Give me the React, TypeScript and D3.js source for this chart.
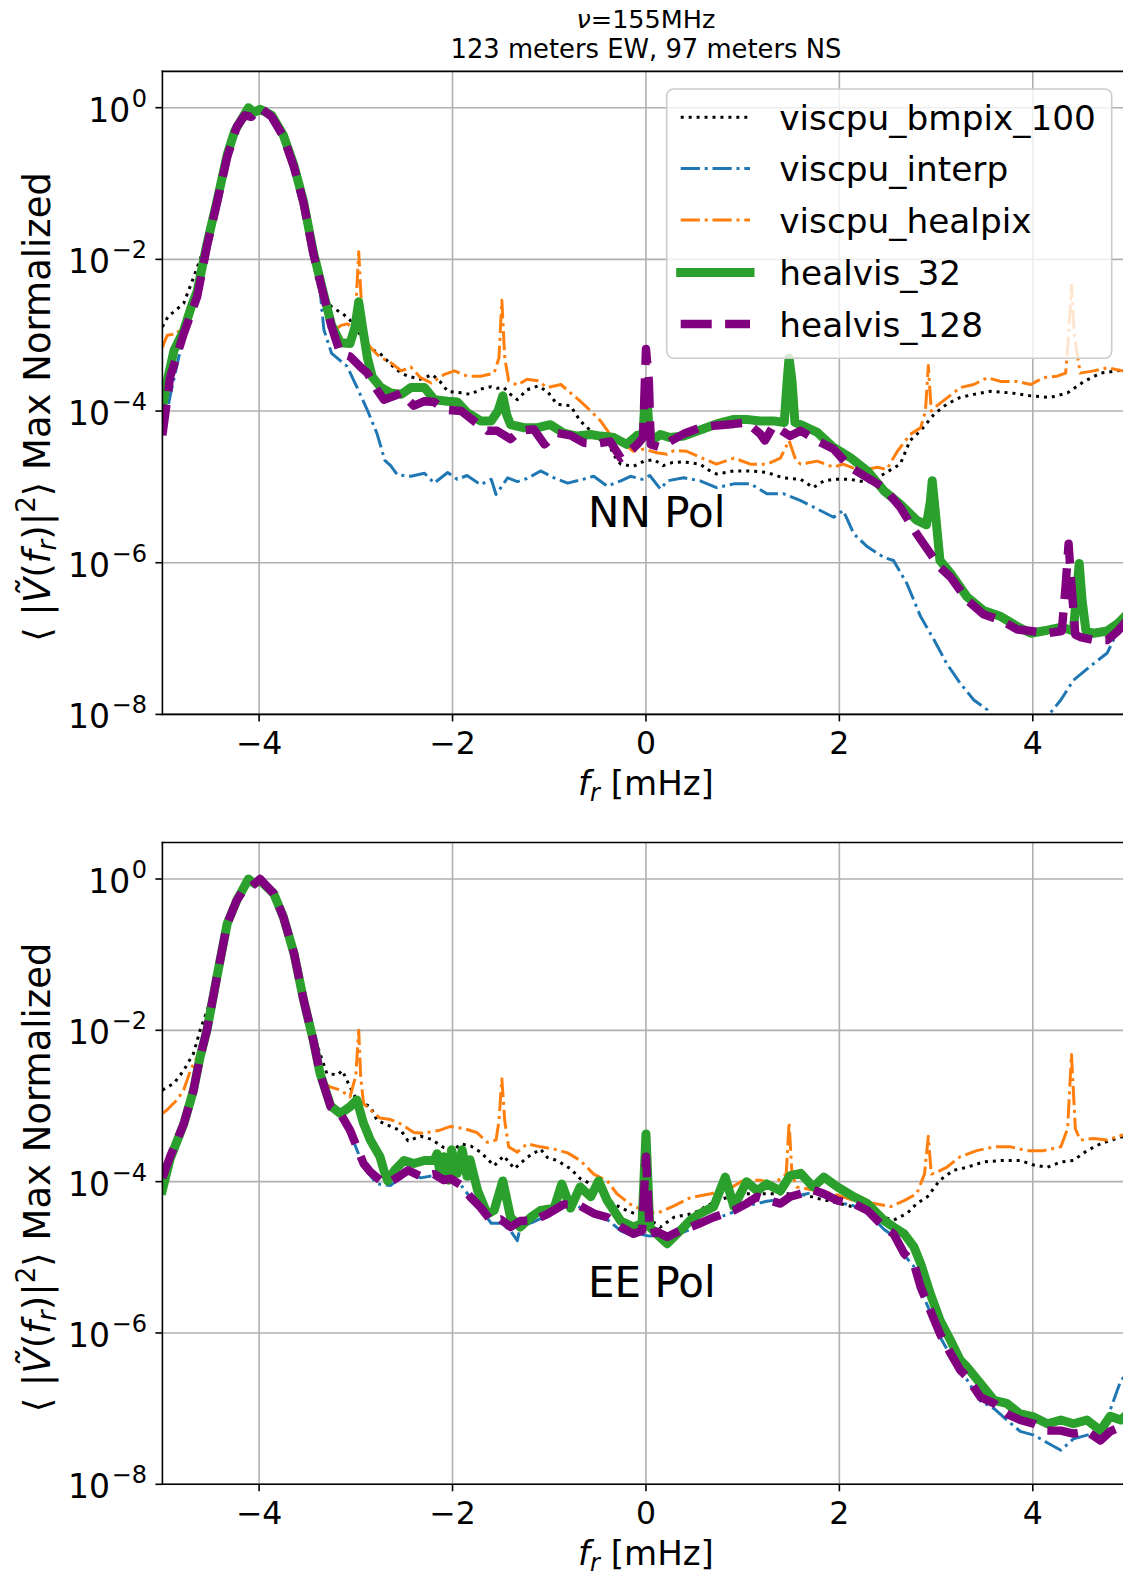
import React from 'react';
import * as d3 from 'd3';

// Each series: [f_r in mHz, log10 of max-normalized power]
type Pt = [number, number];

const SERIES_NAMES = ['viscpu_bmpix_100', 'viscpu_interp', 'viscpu_healpix', 'healvis_32', 'healvis_128'];
const FREQ_TICKS = [-4, -2, 0, 2, 4];
const DECADE_TICKS = [0, -2, -4, -6, -8];
const TITLE_LINE1 = '=155MHz';
const TITLE_LINE2 = '123 meters EW, 97 meters NS';
const PANEL_LABELS = ['NN Pol', 'EE Pol'];

// ---------------- NN Pol ----------------
const nnBmpix: Pt[] = [[-5,-2.89],[-4.94,-2.75],[-4.88,-2.69],[-4.78,-2.58],[-4.69,-2.28],[-4.61,-2.0],[-4.54,-1.75],[-4.43,-1.2],[-4.33,-0.65],[-4.23,-0.27],[-4.11,-0.05],[-3.99,-0.02],[-3.87,-0.12],[-3.75,-0.38],[-3.64,-0.78],[-3.54,-1.26],[-3.47,-1.7],[-3.4,-2.32],[-3.25,-2.63],[-3.13,-2.72],[-3.06,-2.8],[-2.95,-3.0],[-2.88,-3.16],[-2.75,-3.24],[-2.61,-3.42],[-2.53,-3.5],[-2.46,-3.54],[-2.33,-3.58],[-2.21,-3.52],[-2.13,-3.61],[-2.05,-3.74],[-1.91,-3.76],[-1.81,-3.78],[-1.71,-3.71],[-1.6,-3.68],[-1.54,-3.7],[-1.47,-3.69],[-1.4,-3.78],[-1.33,-3.85],[-1.23,-3.72],[-1.12,-3.67],[-1.02,-3.74],[-0.92,-3.91],[-0.78,-3.93],[-0.68,-4.13],[-0.57,-4.26],[-0.47,-4.38],[-0.37,-4.48],[-0.3,-4.65],[-0.26,-4.7],[-0.13,-4.73],[-0.02,-4.66],[0.08,-4.64],[0.18,-4.72],[0.27,-4.68],[0.39,-4.67],[0.56,-4.7],[0.65,-4.78],[0.73,-4.83],[0.91,-4.79],[1.08,-4.79],[1.25,-4.81],[1.42,-4.88],[1.6,-4.9],[1.73,-5.01],[1.84,-4.92],[1.94,-4.9],[2.11,-4.9],[2.29,-4.94],[2.46,-4.83],[2.63,-4.7],[2.73,-4.39],[2.84,-4.26],[2.98,-4.04],[3.11,-3.91],[3.25,-3.82],[3.39,-3.78],[3.56,-3.74],[3.77,-3.76],[3.98,-3.8],[4.18,-3.82],[4.36,-3.76],[4.53,-3.61],[4.7,-3.5],[4.87,-3.47],[5,-3.44]];

const nnInterp: Pt[] = [[-5,-4.32],[-4.92,-3.8],[-4.78,-3.0],[-4.64,-2.45],[-4.54,-1.8],[-4.43,-1.2],[-4.33,-0.63],[-4.23,-0.25],[-4.11,-0.03],[-3.99,0],[-3.87,-0.12],[-3.75,-0.38],[-3.64,-0.78],[-3.54,-1.26],[-3.44,-1.92],[-3.37,-2.4],[-3.33,-2.93],[-3.25,-3.24],[-3.09,-3.41],[-2.99,-3.68],[-2.88,-3.99],[-2.78,-4.3],[-2.7,-4.65],[-2.64,-4.72],[-2.57,-4.84],[-2.43,-4.86],[-2.29,-4.82],[-2.19,-4.95],[-2.05,-4.81],[-1.95,-4.9],[-1.85,-4.85],[-1.71,-4.97],[-1.6,-4.9],[-1.55,-5.1],[-1.43,-4.88],[-1.33,-4.93],[-1.23,-4.89],[-1.09,-4.79],[-0.95,-4.88],[-0.81,-4.95],[-0.68,-4.91],[-0.54,-4.86],[-0.4,-4.99],[-0.26,-4.92],[-0.16,-4.86],[-0.04,-4.9],[0.04,-4.85],[0.15,-5.03],[0.22,-4.92],[0.39,-4.88],[0.56,-4.92],[0.73,-5.01],[0.91,-4.96],[1.08,-4.96],[1.25,-5.09],[1.42,-5.09],[1.6,-5.18],[1.77,-5.29],[1.94,-5.4],[2.04,-5.31],[2.15,-5.62],[2.29,-5.79],[2.46,-5.93],[2.56,-5.97],[2.7,-6.28],[2.84,-6.71],[2.98,-7.02],[3.11,-7.33],[3.25,-7.59],[3.39,-7.81],[3.53,-7.94],[3.6,-8.07],[3.75,-8.3],[4.0,-8.35],[4.15,-8.03],[4.29,-7.81],[4.42,-7.55],[4.59,-7.37],[4.77,-7.19],[4.86,-6.95],[4.95,-6.8],[5,-6.75]];

const nnHealpix: Pt[] = [[-5,-3.16],[-4.95,-3.0],[-4.85,-2.98],[-4.8,-2.89],[-4.74,-2.76],[-4.68,-2.5],[-4.6,-2.2],[-4.54,-1.82],[-4.43,-1.2],[-4.33,-0.64],[-4.23,-0.25],[-4.11,-0.03],[-3.99,-0.01],[-3.87,-0.12],[-3.75,-0.38],[-3.64,-0.78],[-3.54,-1.26],[-3.44,-1.92],[-3.33,-2.49],[-3.23,-2.94],[-3.15,-2.87],[-3.09,-2.85],[-3.02,-2.9],[-2.99,-2.4],[-2.97,-1.9],[-2.95,-2.4],[-2.92,-3.02],[-2.85,-3.16],[-2.75,-3.29],[-2.64,-3.36],[-2.53,-3.47],[-2.43,-3.42],[-2.33,-3.56],[-2.22,-3.63],[-2.09,-3.52],[-1.98,-3.47],[-1.85,-3.54],[-1.71,-3.54],[-1.57,-3.5],[-1.52,-3.3],[-1.49,-2.54],[-1.46,-3.3],[-1.42,-3.6],[-1.33,-3.66],[-1.23,-3.58],[-1.12,-3.6],[-1.02,-3.69],[-0.88,-3.65],[-0.78,-3.76],[-0.68,-3.87],[-0.57,-4.0],[-0.47,-4.13],[-0.37,-4.31],[-0.26,-4.4],[-0.13,-4.53],[-0.02,-4.5],[0.11,-4.55],[0.22,-4.57],[0.29,-4.52],[0.42,-4.53],[0.56,-4.61],[0.73,-4.7],[0.91,-4.62],[1.08,-4.7],[1.25,-4.7],[1.39,-4.62],[1.48,-4.39],[1.55,-4.65],[1.6,-4.7],[1.77,-4.66],[1.94,-4.74],[2.04,-4.7],[2.22,-4.79],[2.39,-4.74],[2.49,-4.77],[2.6,-4.53],[2.73,-4.31],[2.84,-4.22],[2.89,-4.0],[2.92,-3.4],[2.95,-4.0],[2.98,-3.96],[3.11,-3.83],[3.25,-3.69],[3.39,-3.65],[3.53,-3.56],[3.67,-3.61],[3.84,-3.61],[3.98,-3.65],[4.11,-3.56],[4.25,-3.54],[4.34,-3.5],[4.37,-3.0],[4.4,-2.34],[4.43,-3.0],[4.49,-3.5],[4.63,-3.47],[4.77,-3.43],[4.93,-3.47],[5,-3.42]];

const nnHealvis32: Pt[] = [[-5,-3.95],[-4.95,-3.6],[-4.88,-3.2],[-4.78,-2.94],[-4.7,-2.62],[-4.64,-2.42],[-4.54,-1.8],[-4.43,-1.2],[-4.33,-0.62],[-4.25,-0.3],[-4.18,-0.15],[-4.11,0],[-4.05,-0.06],[-3.99,-0.02],[-3.87,-0.1],[-3.75,-0.36],[-3.64,-0.76],[-3.54,-1.24],[-3.44,-1.9],[-3.33,-2.47],[-3.25,-2.87],[-3.16,-3.1],[-3.06,-3.11],[-3.01,-2.9],[-2.97,-2.56],[-2.93,-2.9],[-2.88,-3.3],[-2.83,-3.55],[-2.74,-3.69],[-2.64,-3.76],[-2.53,-3.78],[-2.43,-3.69],[-2.29,-3.69],[-2.19,-3.85],[-2.05,-3.87],[-1.95,-3.88],[-1.85,-4.02],[-1.71,-4.13],[-1.6,-4.13],[-1.53,-4.0],[-1.48,-3.8],[-1.44,-4.05],[-1.4,-4.18],[-1.26,-4.22],[-1.12,-4.22],[-0.99,-4.18],[-0.85,-4.29],[-0.71,-4.33],[-0.57,-4.31],[-0.47,-4.33],[-0.33,-4.35],[-0.2,-4.44],[-0.09,-4.32],[-0.03,-4.3],[0,-3.63],[0.03,-4.2],[0.06,-4.39],[0.15,-4.31],[0.25,-4.35],[0.39,-4.33],[0.56,-4.25],[0.73,-4.17],[0.91,-4.11],[1.04,-4.11],[1.18,-4.13],[1.32,-4.13],[1.43,-4.15],[1.46,-3.6],[1.48,-3.3],[1.51,-3.6],[1.54,-4.15],[1.6,-4.18],[1.77,-4.28],[1.94,-4.48],[2.11,-4.61],[2.29,-4.79],[2.46,-5.05],[2.63,-5.23],[2.8,-5.44],[2.9,-5.5],[2.94,-5.2],[2.96,-4.92],[2.99,-5.3],[3.04,-5.97],[3.15,-6.14],[3.32,-6.45],[3.49,-6.63],[3.67,-6.71],[3.84,-6.84],[3.98,-6.93],[4.15,-6.89],[4.3,-6.85],[4.42,-6.9],[4.46,-6.3],[4.48,-6.01],[4.51,-6.5],[4.55,-6.9],[4.63,-6.93],[4.77,-6.9],[4.88,-6.8],[5,-6.65]];

const nnHealvis128: Pt[] = [[-5,-4.32],[-4.92,-3.55],[-4.78,-2.98],[-4.64,-2.49],[-4.54,-1.83],[-4.43,-1.22],[-4.33,-0.65],[-4.23,-0.25],[-4.15,-0.1],[-4.08,-0.12],[-3.99,0],[-3.87,-0.12],[-3.75,-0.38],[-3.64,-0.78],[-3.54,-1.26],[-3.44,-1.92],[-3.33,-2.49],[-3.25,-2.89],[-3.16,-3.24],[-3.06,-3.28],[-2.95,-3.42],[-2.88,-3.5],[-2.78,-3.72],[-2.71,-3.85],[-2.6,-3.8],[-2.53,-3.76],[-2.4,-3.93],[-2.29,-3.87],[-2.19,-3.88],[-2.09,-3.98],[-1.91,-4.0],[-1.78,-4.13],[-1.64,-4.26],[-1.54,-4.26],[-1.4,-4.37],[-1.3,-4.26],[-1.16,-4.24],[-1.05,-4.44],[-0.92,-4.29],[-0.78,-4.32],[-0.64,-4.42],[-0.51,-4.43],[-0.37,-4.4],[-0.26,-4.62],[-0.2,-4.57],[-0.09,-4.44],[-0.03,-4.35],[0,-3.18],[0.03,-3.6],[0.05,-4.44],[0.15,-4.48],[0.25,-4.4],[0.39,-4.3],[0.56,-4.22],[0.73,-4.19],[0.91,-4.17],[1.04,-4.15],[1.18,-4.3],[1.23,-4.39],[1.32,-4.19],[1.49,-4.33],[1.6,-4.26],[1.77,-4.39],[1.94,-4.5],[2.11,-4.74],[2.29,-4.88],[2.46,-5.01],[2.63,-5.27],[2.8,-5.62],[2.92,-5.84],[3.04,-6.06],[3.15,-6.19],[3.32,-6.49],[3.49,-6.68],[3.67,-6.76],[3.84,-6.88],[3.98,-6.9],[4.15,-6.93],[4.3,-6.9],[4.34,-6.3],[4.37,-5.75],[4.4,-6.3],[4.44,-6.95],[4.49,-6.98],[4.63,-7.02],[4.77,-7.02],[4.88,-6.9],[5,-6.72]];

// ---------------- EE Pol ----------------
const eeBmpix: Pt[] = [[-5,-2.79],[-4.88,-2.7],[-4.78,-2.53],[-4.68,-2.31],[-4.61,-2.0],[-4.54,-1.75],[-4.43,-1.25],[-4.33,-0.6],[-4.23,-0.28],[-4.11,-0.05],[-3.99,-0.02],[-3.85,-0.19],[-3.75,-0.5],[-3.64,-0.98],[-3.54,-1.5],[-3.47,-1.91],[-3.37,-2.31],[-3.3,-2.57],[-3.19,-2.59],[-3.14,-2.53],[-3.06,-2.75],[-2.99,-2.92],[-2.85,-3.01],[-2.78,-3.19],[-2.64,-3.27],[-2.53,-3.33],[-2.46,-3.46],[-2.33,-3.4],[-2.22,-3.44],[-2.09,-3.55],[-1.99,-3.58],[-1.91,-3.5],[-1.81,-3.53],[-1.71,-3.61],[-1.57,-3.79],[-1.47,-3.66],[-1.36,-3.83],[-1.23,-3.68],[-1.09,-3.57],[-1.02,-3.68],[-0.92,-3.72],[-0.78,-3.83],[-0.68,-3.96],[-0.57,-4.03],[-0.47,-4.12],[-0.33,-4.3],[-0.2,-4.38],[-0.02,-4.47],[0.11,-4.56],[0.15,-4.6],[0.29,-4.47],[0.49,-4.42],[0.73,-4.25],[0.98,-4.16],[1.18,-4.16],[1.29,-4.16],[1.6,-4.16],[1.77,-4.22],[2.01,-4.29],[2.29,-4.38],[2.46,-4.47],[2.56,-4.51],[2.7,-4.42],[2.8,-4.29],[2.91,-4.2],[3.04,-3.98],[3.18,-3.85],[3.32,-3.81],[3.49,-3.74],[3.67,-3.72],[3.87,-3.72],[4.01,-3.78],[4.15,-3.81],[4.29,-3.74],[4.42,-3.72],[4.56,-3.59],[4.7,-3.5],[4.91,-3.41],[5,-3.4]];

const eeInterp: Pt[] = [[-5,-4.0],[-4.92,-3.68],[-4.78,-3.24],[-4.68,-2.8],[-4.61,-2.35],[-4.54,-2.0],[-4.43,-1.25],[-4.33,-0.59],[-4.23,-0.28],[-4.11,-0.02],[-3.99,0],[-3.85,-0.19],[-3.75,-0.5],[-3.64,-0.98],[-3.54,-1.6],[-3.44,-2.13],[-3.37,-2.57],[-3.26,-3.01],[-3.16,-3.12],[-3.06,-3.35],[-2.92,-3.8],[-2.85,-3.92],[-2.78,-4.03],[-2.64,-4.05],[-2.54,-3.95],[-2.46,-3.88],[-2.33,-3.95],[-2.19,-3.92],[-2.09,-3.98],[-2.0,-3.92],[-1.91,-4.05],[-1.81,-4.22],[-1.71,-4.36],[-1.6,-4.55],[-1.5,-4.55],[-1.4,-4.65],[-1.33,-4.78],[-1.3,-4.6],[-1.16,-4.53],[-1.02,-4.45],[-0.85,-4.33],[-0.71,-4.32],[-0.54,-4.45],[-0.4,-4.5],[-0.26,-4.65],[-0.13,-4.72],[-0.04,-4.7],[0.04,-4.72],[0.11,-4.7],[0.22,-4.77],[0.36,-4.68],[0.56,-4.58],[0.7,-4.5],[0.91,-4.4],[1.04,-4.32],[1.25,-4.26],[1.49,-4.22],[1.6,-4.18],[1.73,-4.14],[1.98,-4.27],[2.15,-4.32],[2.29,-4.4],[2.46,-4.63],[2.56,-4.72],[2.67,-4.97],[2.77,-5.12],[2.84,-5.42],[2.94,-5.73],[3.04,-6.05],[3.15,-6.3],[3.25,-6.53],[3.32,-6.62],[3.46,-6.9],[3.6,-7.0],[3.73,-7.15],[3.87,-7.3],[4.01,-7.35],[4.15,-7.45],[4.29,-7.55],[4.42,-7.4],[4.56,-7.35],[4.7,-7.3],[4.8,-7.02],[4.91,-6.63],[5,-6.5]];

const eeHealpix: Pt[] = [[-5,-3.1],[-4.95,-3.05],[-4.85,-2.92],[-4.78,-2.79],[-4.71,-2.53],[-4.64,-2.35],[-4.58,-2.1],[-4.54,-1.85],[-4.43,-1.25],[-4.33,-0.6],[-4.23,-0.28],[-4.11,-0.03],[-3.99,-0.01],[-3.85,-0.19],[-3.75,-0.5],[-3.64,-0.98],[-3.54,-1.6],[-3.44,-2.13],[-3.37,-2.5],[-3.33,-2.7],[-3.26,-2.75],[-3.16,-2.79],[-3.06,-2.88],[-3.0,-2.6],[-2.97,-2.0],[-2.95,-2.6],[-2.92,-2.97],[-2.85,-3.05],[-2.75,-3.16],[-2.64,-3.18],[-2.53,-3.24],[-2.4,-3.35],[-2.3,-3.36],[-2.26,-3.35],[-2.13,-3.32],[-2.02,-3.27],[-1.88,-3.3],[-1.75,-3.35],[-1.64,-3.48],[-1.55,-3.45],[-1.52,-3.2],[-1.49,-2.64],[-1.46,-3.2],[-1.42,-3.54],[-1.33,-3.61],[-1.23,-3.5],[-1.09,-3.54],[-0.95,-3.57],[-0.81,-3.62],[-0.68,-3.72],[-0.54,-3.9],[-0.4,-3.99],[-0.3,-4.16],[-0.16,-4.3],[0.01,-4.4],[0.11,-4.42],[0.29,-4.32],[0.46,-4.21],[0.67,-4.16],[0.84,-4.11],[1.01,-3.98],[1.18,-3.98],[1.32,-4.03],[1.45,-3.9],[1.48,-3.22],[1.51,-3.9],[1.56,-4.07],[1.73,-4.11],[1.94,-4.16],[2.15,-4.25],[2.36,-4.29],[2.53,-4.33],[2.67,-4.25],[2.8,-4.16],[2.88,-3.9],[2.92,-3.4],[2.95,-3.9],[2.98,-3.89],[3.11,-3.81],[3.25,-3.67],[3.42,-3.59],[3.6,-3.54],[3.77,-3.54],[3.94,-3.59],[4.11,-3.59],[4.29,-3.54],[4.36,-3.3],[4.4,-2.32],[4.44,-3.3],[4.49,-3.45],[4.63,-3.43],[4.77,-3.45],[4.91,-3.39],[5,-3.37]];

const eeHealvis32: Pt[] = [[-5,-4.11],[-4.92,-3.7],[-4.78,-3.24],[-4.68,-2.8],[-4.61,-2.35],[-4.54,-2.0],[-4.43,-1.25],[-4.33,-0.59],[-4.23,-0.28],[-4.11,0],[-4.05,-0.06],[-3.99,-0.02],[-3.85,-0.19],[-3.75,-0.5],[-3.64,-0.98],[-3.54,-1.6],[-3.44,-2.13],[-3.37,-2.57],[-3.26,-3.0],[-3.16,-3.1],[-3.06,-3.01],[-2.99,-2.92],[-2.92,-3.23],[-2.85,-3.45],[-2.75,-3.67],[-2.71,-3.85],[-2.67,-3.99],[-2.6,-3.85],[-2.5,-3.72],[-2.4,-3.76],[-2.29,-3.72],[-2.19,-3.72],[-2.16,-3.63],[-2.13,-3.89],[-2.09,-3.67],[-2.04,-3.98],[-2.01,-3.58],[-1.95,-3.89],[-1.9,-3.58],[-1.85,-3.93],[-1.82,-3.71],[-1.74,-4.12],[-1.64,-4.43],[-1.57,-4.38],[-1.48,-3.99],[-1.4,-4.47],[-1.3,-4.6],[-1.19,-4.47],[-1.09,-4.38],[-0.95,-4.35],[-0.87,-4.03],[-0.78,-4.35],[-0.68,-4.07],[-0.57,-4.2],[-0.49,-3.99],[-0.4,-4.25],[-0.26,-4.52],[-0.13,-4.6],[-0.04,-4.55],[0,-3.37],[0.04,-4.6],[0.11,-4.69],[0.22,-4.82],[0.36,-4.64],[0.46,-4.51],[0.56,-4.42],[0.7,-4.33],[0.82,-3.94],[0.91,-4.33],[1.04,-4.0],[1.15,-4.12],[1.25,-4.03],[1.39,-4.12],[1.49,-3.92],[1.6,-3.89],[1.73,-4.07],[1.84,-3.94],[1.98,-4.07],[2.15,-4.2],[2.29,-4.29],[2.46,-4.51],[2.56,-4.6],[2.67,-4.69],[2.77,-4.86],[2.84,-5.08],[2.94,-5.48],[3.04,-5.83],[3.15,-6.1],[3.25,-6.36],[3.32,-6.45],[3.46,-6.67],[3.6,-6.89],[3.73,-6.93],[3.87,-7.07],[4.01,-7.11],[4.15,-7.2],[4.29,-7.15],[4.42,-7.2],[4.56,-7.15],[4.7,-7.29],[4.8,-7.1],[4.91,-7.15],[5,-7.05]];

const eeHealvis128: Pt[] = [[-5,-3.95],[-4.92,-3.67],[-4.78,-3.24],[-4.68,-2.8],[-4.61,-2.35],[-4.54,-2.0],[-4.43,-1.25],[-4.33,-0.59],[-4.23,-0.28],[-4.15,-0.12],[-4.08,-0.1],[-3.99,0],[-3.85,-0.19],[-3.75,-0.5],[-3.64,-0.98],[-3.54,-1.6],[-3.44,-2.13],[-3.37,-2.57],[-3.26,-3.01],[-3.16,-3.1],[-3.06,-3.32],[-2.92,-3.76],[-2.85,-3.87],[-2.75,-3.98],[-2.64,-4.0],[-2.54,-3.92],[-2.46,-3.85],[-2.33,-3.93],[-2.19,-3.9],[-2.09,-3.98],[-2.02,-3.96],[-1.91,-4.05],[-1.81,-4.21],[-1.71,-4.34],[-1.6,-4.52],[-1.5,-4.5],[-1.4,-4.6],[-1.3,-4.52],[-1.16,-4.51],[-1.02,-4.43],[-0.85,-4.3],[-0.71,-4.3],[-0.54,-4.42],[-0.4,-4.47],[-0.26,-4.6],[-0.13,-4.69],[-0.04,-4.65],[0,-3.67],[0.04,-4.69],[0.11,-4.66],[0.22,-4.73],[0.36,-4.64],[0.46,-4.6],[0.56,-4.55],[0.7,-4.47],[0.82,-4.42],[0.91,-4.38],[1.04,-4.29],[1.15,-4.2],[1.25,-4.24],[1.39,-4.29],[1.49,-4.2],[1.6,-4.16],[1.73,-4.11],[1.84,-4.16],[1.98,-4.25],[2.15,-4.29],[2.29,-4.38],[2.46,-4.6],[2.56,-4.69],[2.67,-4.95],[2.77,-5.08],[2.84,-5.39],[2.94,-5.7],[3.04,-6.01],[3.15,-6.27],[3.25,-6.49],[3.32,-6.58],[3.46,-6.85],[3.6,-6.93],[3.73,-7.07],[3.87,-7.15],[4.01,-7.2],[4.15,-7.29],[4.29,-7.29],[4.42,-7.33],[4.56,-7.3],[4.7,-7.42],[4.8,-7.3],[4.91,-7.24],[5,-7.12]];

const NN_DATA = [nnBmpix, nnInterp, nnHealpix, nnHealvis32, nnHealvis128];
const EE_DATA = [eeBmpix, eeInterp, eeHealpix, eeHealvis32, eeHealvis128];

// ---------------- styles / layout ----------------
const STYLES = [
  { color: '#000000', width: 3, dash: '3 4.95', cap: 'butt' },
  { color: '#1f77b4', width: 3, dash: '19.2 4.8 3 4.8', cap: 'butt' },
  { color: '#ff7f0e', width: 3, dash: '19.2 4.8 3 4.8', cap: 'butt' },
  { color: '#2ca02c', width: 9, dash: 'none', cap: 'square' },
  { color: '#800080', width: 8.4, dash: '31 13.4', cap: 'butt' },
];

const FONT = "'DejaVu Sans', Verdana, sans-serif";
const X_LEFT = 162.4;
const X_RIGHT = 1129.5;

const PANELS = [
  { top: 71.4, zeroY: 107.7, bottom: 714.4, data: NN_DATA, label: PANEL_LABELS[0], labelY: 527, legend: true },
  { top: 842.5, zeroY: 879, bottom: 1484.3, data: EE_DATA, label: PANEL_LABELS[1], labelY: 1297, legend: false },
];

function Panel({ p, idx }: { p: any; idx: number }) {
  const x = d3.scaleLinear().domain([-5, 5]).range([X_LEFT, X_RIGHT]);
  const y = d3.scaleLog().domain([1e-8, 1]).range([p.bottom, p.zeroY]);
  const line = d3
    .line<Pt>()
    .x((d) => x(d[0]))
    .y((d) => y(Math.pow(10, d[1])));
  const clipId = `clip-${idx}`;
  const yMid = (p.top + p.bottom) / 2 + 14;

  return (
    <g>
      <defs>
        <clipPath id={clipId}>
          <rect x={X_LEFT} y={p.top} width={X_RIGHT - X_LEFT} height={p.bottom - p.top} />
        </clipPath>
      </defs>
      {FREQ_TICKS.map((t) => (
        <line key={'gx' + t} x1={x(t)} x2={x(t)} y1={p.top} y2={p.bottom} stroke="#b0b0b0" strokeWidth={1.6} />
      ))}
      {DECADE_TICKS.map((e) => (
        <line key={'gy' + e} x1={X_LEFT} x2={X_RIGHT} y1={y(Math.pow(10, e))} y2={y(Math.pow(10, e))} stroke="#b0b0b0" strokeWidth={1.6} />
      ))}
      <g clipPath={`url(#${clipId})`}>
        {p.data.map((d: Pt[], i: number) => (
          <path
            key={i}
            d={line(d) || ''}
            fill="none"
            stroke={STYLES[i].color}
            strokeWidth={STYLES[i].width}
            strokeDasharray={STYLES[i].dash}
            strokeLinecap={STYLES[i].cap as any}
            strokeLinejoin="round"
          />
        ))}
      </g>
      <line x1={X_LEFT} x2={X_LEFT} y1={p.top} y2={p.bottom} stroke="#000" strokeWidth={1.6} strokeLinecap="square" />
      <line x1={X_LEFT} x2={X_RIGHT} y1={p.top} y2={p.top} stroke="#000" strokeWidth={1.6} strokeLinecap="square" />
      <line x1={X_LEFT} x2={X_RIGHT} y1={p.bottom} y2={p.bottom} stroke="#000" strokeWidth={1.6} strokeLinecap="square" />
      {FREQ_TICKS.map((t) => (
        <g key={'tx' + t}>
          <line x1={x(t)} x2={x(t)} y1={p.bottom} y2={p.bottom + 7} stroke="#000" strokeWidth={1.6} />
          <text x={x(t)} y={p.bottom + 40} textAnchor="middle" fontSize={31.5} fontFamily={FONT}>
            {t < 0 ? '\u2212' + Math.abs(t) : String(t)}
          </text>
        </g>
      ))}
      {DECADE_TICKS.map((e) => {
        const yy = y(Math.pow(10, e));
        return (
          <g key={'ty' + e}>
            <line x1={X_LEFT - 7} x2={X_LEFT} y1={yy} y2={yy} stroke="#000" strokeWidth={1.6} />
            <text x={147} y={yy + 14} textAnchor="end" fontSize={33} fontFamily={FONT}>
              10
              <tspan dx={1.5} dy={-15} fontSize={24}>
                {e < 0 ? '\u2212' + Math.abs(e) : String(e)}
              </tspan>
            </text>
          </g>
        );
      })}
      <text x={(X_LEFT + X_RIGHT) / 2} y={p.bottom + 81} textAnchor="middle" fontSize={34} fontFamily={FONT}>
        <tspan fontStyle="italic">f</tspan>
        <tspan fontStyle="italic" fontSize={24} dy={6}>r</tspan>
        <tspan dy={-6}> [mHz]</tspan>
      </text>
      <text transform={`translate(50,${yMid}) rotate(-90)`} textAnchor="middle" fontSize={37} fontFamily={FONT}>
        {'\u27E8 |'}
        <tspan fontStyle="italic">{'V\u0303'}</tspan>
        {'('}
        <tspan fontStyle="italic">f</tspan>
        <tspan fontStyle="italic" fontSize={26} dy={6}>r</tspan>
        <tspan dy={-6}>{')|'}</tspan>
        <tspan fontSize={26} dy={-15}>2</tspan>
        <tspan dy={15}>{'\u27E9 Max Normalized'}</tspan>
      </text>
      <text x={588} y={p.labelY} fontSize={42} fontFamily={FONT}>
        {p.label}
      </text>
      {p.legend && <Legend />}
    </g>
  );
}

function Legend() {
  const rows = [117.3, 168.6, 220, 272.5, 324];
  return (
    <g>
      <rect x={666.7} y={89} width={445} height={269.3} rx={7} ry={7} fill="#ffffff" fillOpacity={0.8} stroke="#cccccc" strokeWidth={1.6} />
      {SERIES_NAMES.map((name, i) => (
        <g key={name}>
          <line
            x1={680.7}
            x2={750}
            y1={rows[i]}
            y2={rows[i]}
            stroke={STYLES[i].color}
            strokeWidth={STYLES[i].width}
            strokeDasharray={STYLES[i].dash}
            strokeLinecap={STYLES[i].cap as any}
          />
          <text x={779.3} y={rows[i] + 12.5} fontSize={34.3} fontFamily={FONT}>
            {name}
          </text>
        </g>
      ))}
    </g>
  );
}

export default function App() {
  const cx = (X_LEFT + X_RIGHT) / 2;
  return (
    <svg
      width={1123}
      height={1577}
      viewBox="0 0 1123 1577"
      style={{ position: 'absolute', left: 0, top: 0, display: 'block', background: '#ffffff' }}
    >
      <rect x={0} y={0} width={1123} height={1577} fill="#ffffff" />
      <text x={cx} y={27.5} textAnchor="middle" fontSize={25.5} fontFamily={FONT}>
        <tspan fontStyle="italic">{'\u03BD'}</tspan>
        {TITLE_LINE1}
      </text>
      <text x={cx} y={57.5} textAnchor="middle" fontSize={25.8} fontFamily={FONT}>
        {TITLE_LINE2}
      </text>
      {PANELS.map((p, i) => (
        <Panel key={i} p={p} idx={i} />
      ))}
    </svg>
  );
}
